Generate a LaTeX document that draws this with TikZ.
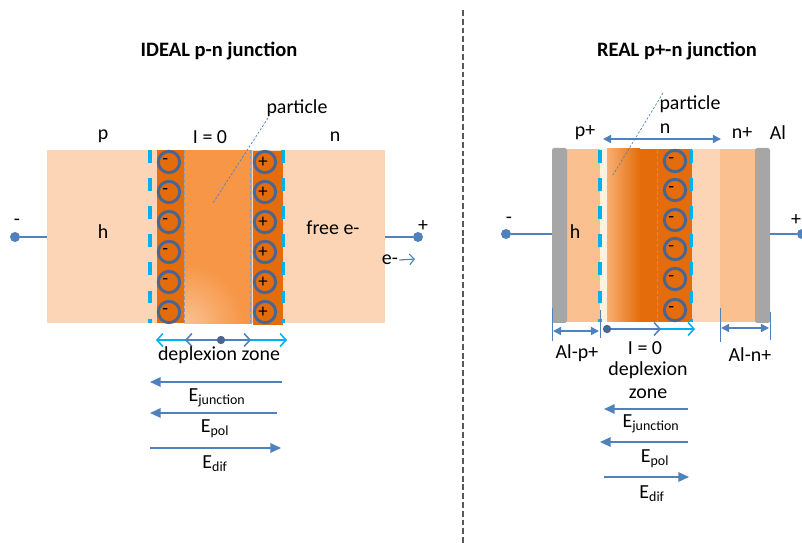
\documentclass[tikz,border=0pt]{standalone}
\usepackage{fontspec}
\setmainfont{Carlito}
\usetikzlibrary{arrows.meta}

\definecolor{peach}{HTML}{FBD5B5}
\definecolor{apricot}{HTML}{FAC090}
\definecolor{orangeM}{HTML}{F79646}
\definecolor{orangeD}{HTML}{E46C0A}
\definecolor{cream}{HTML}{FDF1E0}
\definecolor{cyanB}{HTML}{00B0F0}
\definecolor{steel}{HTML}{4F81BD}
\definecolor{ionring}{HTML}{4A6590}
\definecolor{alu}{HTML}{A6A6A6}
\definecolor{seam}{HTML}{8A9CB8}
\definecolor{divgrey}{HTML}{595959}

\tikzset{
  every node/.style={font=\fontsize{17}{20}\selectfont},
  title/.style={font=\fontsize{17.5}{20}\selectfont\bfseries},
  ion/.style={circle,draw=ionring,line width=2.5pt,inner sep=0pt,minimum size=0.64cm},
  sign/.style={font=\fontsize{16}{18}\selectfont,inner sep=0pt},
  edge/.style={cyanB,line width=3.4pt,dash pattern=on 11pt off 13pt},
  seamline/.style={seam,line width=0.8pt,dash pattern=on 3pt off 2pt},
  wire/.style={steel,line width=1.4pt},
  dot/.style={circle,fill=steel,inner sep=0pt,minimum size=0.3cm},
  track/.style={steel,line width=0.6pt,dash pattern=on 2pt off 1.5pt},
  efield/.style={steel,line width=1.5pt,-{Triangle[length=9pt,width=8pt]}},
  span/.style={line width=1.3pt,{Straight Barb[length=5pt,width=11pt]}-{Straight Barb[length=5pt,width=11pt]}},
  dim/.style={steel,line width=1.3pt,{Triangle[length=7pt,width=7pt]}-{Triangle[length=7pt,width=7pt]}},
  tick/.style={steel,line width=0.8pt}
}

\begin{document}
\begin{tikzpicture}[x=0.03cm,y=-0.03cm]
\useasboundingbox (0,0) rectangle (802,543);

%%% ideal junction
\node[title] (tideal) at (219,51) {IDEAL p-n junction};

\fill[peach] (47,150) rectangle (385,323);
\fill[orangeD] (157,150) rectangle (184,323);
\fill[orangeD] (253,151) rectangle (283,325);
\fill[orangeM] (184,150) rectangle (252,324);
\begin{scope}
  \clip (184,150) rectangle (252,324);
  \shade[inner color=peach!70!orangeM, outer color=orangeM] (184,324) circle (60);
\end{scope}

\draw[edge] (150,150) -- (150,323);
\draw[edge] (283,150) -- (283,323);
\draw[seamline] (184,150) -- (184,323);
\draw[seamline] (250,150) -- (250,323);

\foreach \y [count=\k] in {162,192,222,252,282,312}{
  \node[ion] (neg\k) at (169,\y) {};
  \node[sign] at ([xshift=-0.11cm]neg\k.center) {-};
  \node[ion] (pos\k) at (265,\y) {};
  \node[sign] at ([xshift=-0.06cm]pos\k.center) {+};
}

\node (pL) at (103,136) {p};
\node (izeroL) at (210,137) {I = 0};
\node (nL) at (335,137) {n};
\node (hL) at (103,232) {h};
\node (freeL) at (333,228) {free e-};

\node (partL) at (297,108) {particle};
\coordinate (inL) at (268,118);
\coordinate (stopL) at (213,203);
\draw[track] (inL) -- (stopL);

% contacts
\coordinate (slabW) at (47,237);
\coordinate (slabE) at (385,237);
\node[dot] (termL) at (15,237) {};
\node[dot] (termR) at (418,237) {};
\draw[wire] (termL) -- (slabW);
\draw[wire] (slabE) -- (termR);
\node (minusL) at (17,222) {-};
\node (plusL) at (423,226) {+};

\node[inner sep=1pt] (eout) at (390,260) {e-};
\coordinate (eend) at (415,259);
\draw[steel,line width=1pt,-{Straight Barb[length=4pt,width=9pt]}] (eout.east) -- (eend);

% depletion width
\coordinate (dzA) at (156,340);
\coordinate (dzB) at (287,340);
\coordinate (dzC) at (185,340);
\coordinate (dzD) at (251,340);
\draw[span,cyanB] (dzA) -- (dzB);
\draw[span,steel] (dzC) -- (dzD);
\node[dot,fill=ionring,minimum size=0.25cm] (dzmid) at (221,340) {};
\node (dzL) at (219,355) {deplexion zone};

% fields
\coordinate (ej1) at (282,382); \coordinate (ej2) at (150,382);
\coordinate (ep1) at (277,413); \coordinate (ep2) at (150,413);
\coordinate (ed1) at (150,448); \coordinate (ed2) at (281,448);
\draw[efield] (ej1) -- (ej2);
\draw[efield] (ep1) -- (ep2);
\draw[efield] (ed1) -- (ed2);
\node (EjL) at (217,398) {E\textsubscript{junction}};
\node (EpL) at (215,429) {E\textsubscript{pol}};
\node (EdL) at (215,464) {E\textsubscript{dif}};

%%% divider
\draw[divgrey,line width=1.5pt,dash pattern=on 5pt off 2.5pt] (463,10) -- (463,543);

%%% real junction
\node[title] (treal) at (677,51) {REAL p+-n junction};

\fill[apricot] (567,149) rectangle (600,322);
\fill[cream] (600,149) rectangle (607,322);
\shade[left color=apricot!60!orangeM, right color=orangeD] (607,149) rectangle (640,322);
\fill[orangeD] (640,149) rectangle (692,322);
\fill[peach] (692,149) rectangle (720,322);
\fill[apricot] (720,149) rectangle (756,322);
\fill[alu,rounded corners=2pt] (552,148) rectangle (567,323);
\fill[alu,rounded corners=2pt] (755,148) rectangle (770,323);

\draw[edge] (600,150) -- (600,322);
\draw[edge] (691,150) -- (691,322);
\draw[seamline] (657,150) -- (657,322);

\foreach \y [count=\k] in {161,190,220,249,279,310}{
  \node[ion] (acc\k) at (675,\y) {};
  \node[sign] at ([xshift=-0.11cm]acc\k.center) {-};
}

\node (ppR) at (585,133) {p+};
\node (nR) at (665,129) {n};
\node (npR) at (742,133) {n+};
\node (alR) at (778,133) {Al};
\node (hR) at (575,232) {h};

\coordinate (nA) at (603,139);
\coordinate (nB) at (721,139);
\draw[dim] (nA) -- (nB);

\node (partR) at (690,104) {particle};
\coordinate (inR) at (663,93);
\coordinate (stopR) at (613,175);
\draw[track] (inR) -- (stopR);

% contacts
\coordinate (alW) at (552,234);
\coordinate (alE) at (770,234);
\node[dot] (termL2) at (506,234) {};
\node[dot] (termR2) at (802,234) {};
\draw[wire] (termL2) -- (alW);
\draw[wire] (alE) -- (termR2);
\node (minusR) at (509,220) {-};
\node[inner sep=0pt] (plusR) at (796,220) {+};

% contact widths
\draw[tick] (552,308) -- (552,341);
\draw[tick] (600,310) -- (600,338);
\draw[tick] (720,308) -- (720,342);
\draw[tick] (770,312) -- (770,340);
\coordinate (apA) at (553,331); \coordinate (apB) at (599,331);
\coordinate (anA) at (721,328); \coordinate (anB) at (769,328);
\draw[dim] (apA) -- (apB);
\draw[dim] (anA) -- (anB);
\node (alp) at (577,353) {Al-p+};
\node (aln) at (750,355) {Al-n+};

% depletion width
\node[dot,fill=ionring,minimum size=0.25cm] (dzstart) at (607,329) {};
\coordinate (dzE1) at (661,329);
\coordinate (dzE2) at (695,329);
\draw[cyanB,line width=1.3pt,-{Straight Barb[length=5pt,width=11pt]}] (dzstart) -- (dzE2);
\draw[steel,line width=1.3pt,-{Straight Barb[length=5pt,width=11pt]}] (dzstart) -- (dzE1);
\node (izeroR) at (645,348) {I = 0};
\node[align=center] (dzR) at (648,380) {deplexion\\zone};

% fields
\coordinate (fj1) at (688,409); \coordinate (fj2) at (604,409);
\coordinate (fp1) at (688,442); \coordinate (fp2) at (600,442);
\coordinate (fd1) at (604,477); \coordinate (fd2) at (689,477);
\draw[efield] (fj1) -- (fj2);
\draw[efield] (fp1) -- (fp2);
\draw[efield] (fd1) -- (fd2);
\node (EjR) at (651,424) {E\textsubscript{junction}};
\node (EpR) at (655,459) {E\textsubscript{pol}};
\node (EdR) at (652,494) {E\textsubscript{dif}};
\end{tikzpicture}
\end{document}
